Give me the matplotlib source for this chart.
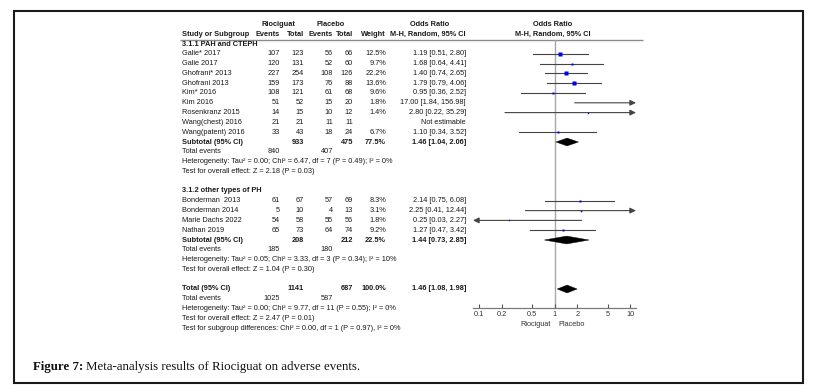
import matplotlib
matplotlib.use('Agg')
import matplotlib.pyplot as plt
from matplotlib.patches import Rectangle, Polygon
import numpy as np

plt.rcParams['font.family'] = ['Liberation Sans', 'DejaVu Sans']

# ---------------- data ----------------
g1_title = "3.1.1 PAH and CTEPH"
g1_studies = ["Galie* 2017", "Galie 2017", "Ghofrani* 2013", "Ghofrani 2013", "Kim* 2016",
              "Kim 2016", "Rosenkranz 2015", "Wang(chest) 2016", "Wang(patent) 2016"]
g1_ev_r = [107, 120, 227, 159, 108, 51, 14, 21, 33]
g1_tot_r = [123, 131, 254, 173, 121, 52, 15, 21, 43]
g1_ev_p = [56, 52, 108, 76, 61, 15, 10, 11, 18]
g1_tot_p = [66, 60, 126, 88, 68, 20, 12, 11, 24]
g1_w = [12.5, 9.7, 22.2, 13.6, 9.6, 1.8, 1.4, None, 6.7]
g1_or = [1.19, 1.68, 1.40, 1.79, 0.95, 17.00, 2.80, None, 1.10]
g1_lo = [0.51, 0.64, 0.74, 0.79, 0.36, 1.84, 0.22, None, 0.34]
g1_hi = [2.80, 4.41, 2.65, 4.06, 2.52, 156.98, 35.29, None, 3.52]
g1_sub = dict(tot_r=933, tot_p=475, w=77.5, est=1.46, lo=1.04, hi=2.06, ev_r=840, ev_p=407)
g1_het = "Heterogeneity: Tau² = 0.00; Chi² = 6.47, df = 7 (P = 0.49); I² = 0%"
g1_test = "Test for overall effect: Z = 2.18 (P = 0.03)"

g2_title = "3.1.2 other types of PH"
g2_studies = ["Bonderman  2013", "Bonderman 2014", "Marie Dachs 2022", "Nathan 2019"]
g2_ev_r = [61, 5, 54, 65]
g2_tot_r = [67, 10, 58, 73]
g2_ev_p = [57, 4, 55, 64]
g2_tot_p = [69, 13, 56, 74]
g2_w = [8.3, 3.1, 1.8, 9.2]
g2_or = [2.14, 2.25, 0.25, 1.27]
g2_lo = [0.75, 0.41, 0.03, 0.47]
g2_hi = [6.08, 12.44, 2.27, 3.42]
g2_sub = dict(tot_r=208, tot_p=212, w=22.5, est=1.44, lo=0.73, hi=2.85, ev_r=185, ev_p=180)
g2_het = "Heterogeneity: Tau² = 0.05; Chi² = 3.33, df = 3 (P = 0.34); I² = 10%"
g2_test = "Test for overall effect: Z = 1.04 (P = 0.30)"

tot = dict(tot_r=1141, tot_p=687, w=100.0, est=1.46, lo=1.08, hi=1.98, ev_r=1025, ev_p=587)
tot_het = "Heterogeneity: Tau² = 0.00; Chi² = 9.77, df = 11 (P = 0.55); I² = 0%"
tot_test = "Test for overall effect: Z = 2.47 (P = 0.01)"
tot_sub = "Test for subgroup differences: Chi² = 0.00, df = 1 (P = 0.97), I² = 0%"

tick_vals = [0.1, 0.2, 0.5, 1, 2, 5, 10]
tick_labels = ["0.1", "0.2", "0.5", "1", "2", "5", "10"]
favours = ["Riociguat", "Placebo"]
caption_bold = "Figure 7:"
caption_rest = "Meta-analysis results of Riociguat on adverse events."

# ---------------- layout ----------------
W, H = 827, 392
Y0, DY = 44.0, 9.8          # pixel y of row 0 and row spacing
def row_of(py):
    return (py - Y0) / DY

fig = plt.figure(figsize=(W / 100, H / 100), dpi=100)
fig.patch.set_facecolor('white')

ax_t = fig.add_axes([0, 0, 1, 1])
ax_t.set_xlim(0, W)
ax_t.set_ylim(row_of(H), row_of(0))
ax_t.axis('off')

FS = 5.3
TC = '#1a1a1a'
def txt(x, r, s, ha='left', bold=False, color=TC):
    ax_t.text(x, r, s, ha=ha, va='center', fontsize=FS, color=color,
              fontweight='bold' if bold else 'normal')

X_NAME, X_EVR, X_TOTR, X_EVP, X_TOTP, X_W, X_OR = 182, 280, 304, 333, 353, 386, 466

# header
txt(278, row_of(25), "Riociguat", ha='center', bold=True)
txt(331, row_of(25), "Placebo", ha='center', bold=True)
txt(430, row_of(25), "Odds Ratio", ha='center', bold=True)
txt(X_NAME, row_of(34), "Study or Subgroup", bold=True)
for x, s in [(X_EVR, "Events"), (X_TOTR, "Total"), (X_EVP, "Events"), (X_TOTP, "Total"),
             (X_W, "Weight"), (X_OR, "M-H, Random, 95% CI")]:
    txt(x, row_of(34), s, ha='right', bold=True)
txt(553, row_of(25), "Odds Ratio", ha='center', bold=True)
txt(553, row_of(34), "M-H, Random, 95% CI", ha='center', bold=True)
ax_t.plot([180, 643], [row_of(39.5)] * 2, color='#8c8c8c', lw=1.0, solid_capstyle='butt')

# forest axes
XMIN, XMAX = 0.0831, 11.9
f_left, f_right, f_top, f_bot = 473, 636, 40, 308
ax_f = fig.add_axes([f_left / W, 1 - f_bot / H, (f_right - f_left) / W, (f_bot - f_top) / H])
ax_f.patch.set_visible(False)
ax_f.set_xscale('log')
ax_f.set_xlim(XMIN, XMAX)
ax_f.set_ylim(row_of(f_bot), row_of(f_top))
for sp in ['top', 'left', 'right']:
    ax_f.spines[sp].set_visible(False)
ax_f.spines['bottom'].set_color('#7a7a7a')
ax_f.spines['bottom'].set_linewidth(0.9)
ax_f.set_yticks([])
ax_f.set_xticks(tick_vals)
ax_f.set_xticklabels(tick_labels)
ax_f.minorticks_off()
ax_f.tick_params(axis='x', direction='in', length=3, width=0.8, color='#555555',
                 labelsize=FS, labelcolor='#333333', pad=2)
ax_f.axvline(1, color='#a8a8a8', lw=1.0, zorder=1)

LC = '#444444'
SC = '#0000ee'
def study_mark(r, est, lo, hi, w):
    a, b = max(lo, XMIN), min(hi, XMAX)
    ap = dict(arrowstyle='-|>,head_length=0.35,head_width=0.17',
              color=LC, lw=0.8, shrinkA=0, shrinkB=0)
    if hi > XMAX:
        ax_f.annotate('', xy=(XMAX, r), xytext=(a, r), arrowprops=ap)
    elif lo < XMIN:
        ax_f.annotate('', xy=(XMIN, r), xytext=(b, r), arrowprops=ap)
    else:
        ax_f.plot([a, b], [r, r], color=LC, lw=0.8)
    if XMIN < est < XMAX:
        ms = max(1.0, 3.0 * np.sqrt(w / 22.2))
        ax_f.plot(est, r, marker='s', ms=ms, color=SC, mec='none', zorder=3)

def diamond(r, est, lo, hi):
    h = 0.4
    ax_f.add_patch(Polygon([(lo, r), (est, r - h), (hi, r), (est, r + h)],
                           closed=True, fc='black', ec='black', lw=0.3, zorder=3))

def group(r0, title, studies, evr, totr, evp, totp, w, est, lo, hi, sub, het, test):
    txt(X_NAME, r0, title, bold=True)
    for i, s in enumerate(studies):
        r = r0 + 1 + i
        txt(X_NAME, r, s)
        txt(X_EVR, r, str(evr[i]), ha='right')
        txt(X_TOTR, r, str(totr[i]), ha='right')
        txt(X_EVP, r, str(evp[i]), ha='right')
        txt(X_TOTP, r, str(totp[i]), ha='right')
        if est[i] is None:
            txt(X_OR, r, "Not estimable", ha='right')
        else:
            txt(X_W, r, f"{w[i]:.1f}%", ha='right')
            txt(X_OR, r, f"{est[i]:.2f} [{lo[i]:.2f}, {hi[i]:.2f}]", ha='right')
            study_mark(r, est[i], lo[i], hi[i], w[i])
    r = r0 + 1 + len(studies)
    txt(X_NAME, r, "Subtotal (95% CI)", bold=True)
    txt(X_TOTR, r, str(sub['tot_r']), ha='right', bold=True)
    txt(X_TOTP, r, str(sub['tot_p']), ha='right', bold=True)
    txt(X_W, r, f"{sub['w']:.1f}%", ha='right', bold=True)
    txt(X_OR, r, f"{sub['est']:.2f} [{sub['lo']:.2f}, {sub['hi']:.2f}]", ha='right', bold=True)
    diamond(r, sub['est'], sub['lo'], sub['hi'])
    txt(X_NAME, r + 1, "Total events")
    txt(X_EVR, r + 1, str(sub['ev_r']), ha='right')
    txt(X_EVP, r + 1, str(sub['ev_p']), ha='right')
    txt(X_NAME, r + 2, het)
    txt(X_NAME, r + 3, test)
    return r + 3

end1 = group(0, g1_title, g1_studies, g1_ev_r, g1_tot_r, g1_ev_p, g1_tot_p,
             g1_w, g1_or, g1_lo, g1_hi, g1_sub, g1_het, g1_test)
end2 = group(end1 + 2, g2_title, g2_studies, g2_ev_r, g2_tot_r, g2_ev_p, g2_tot_p,
             g2_w, g2_or, g2_lo, g2_hi, g2_sub, g2_het, g2_test)
r = end2 + 2
txt(X_NAME, r, "Total (95% CI)", bold=True)
txt(X_TOTR, r, str(tot['tot_r']), ha='right', bold=True)
txt(X_TOTP, r, str(tot['tot_p']), ha='right', bold=True)
txt(X_W, r, f"{tot['w']:.1f}%", ha='right', bold=True)
txt(X_OR, r, f"{tot['est']:.2f} [{tot['lo']:.2f}, {tot['hi']:.2f}]", ha='right', bold=True)
diamond(r, tot['est'], tot['lo'], tot['hi'])
txt(X_NAME, r + 1, "Total events")
txt(X_EVR, r + 1, str(tot['ev_r']), ha='right')
txt(X_EVP, r + 1, str(tot['ev_p']), ha='right')
txt(X_NAME, r + 2, tot_het)
txt(X_NAME, r + 3, tot_test)
txt(X_NAME, r + 4, tot_sub)

# favours labels
txt(551, row_of(324), favours[0], ha='right', color='#333333')
txt(558, row_of(324), favours[1], ha='left', color='#333333')

# frame
fig.add_artist(Rectangle((14 / W, 1 - 383 / H), 789 / W, 372 / H, transform=fig.transFigure,
                         fill=False, ec='#1a1a1a', lw=1.5))

# caption
cy = 1 - 367 / H
t1 = fig.text(33 / W, cy, caption_bold, family=['Liberation Serif', 'DejaVu Serif'],
              fontweight='bold', fontsize=9.3, va='center', color='#111111')
fig.canvas.draw()
bb = t1.get_window_extent()
fig.text((bb.x1 + 3) / W, cy, caption_rest, family=['Liberation Serif', 'DejaVu Serif'],
         fontsize=9.3, va='center', color='#111111')

fig.savefig('out.png', dpi=100, facecolor='white')
